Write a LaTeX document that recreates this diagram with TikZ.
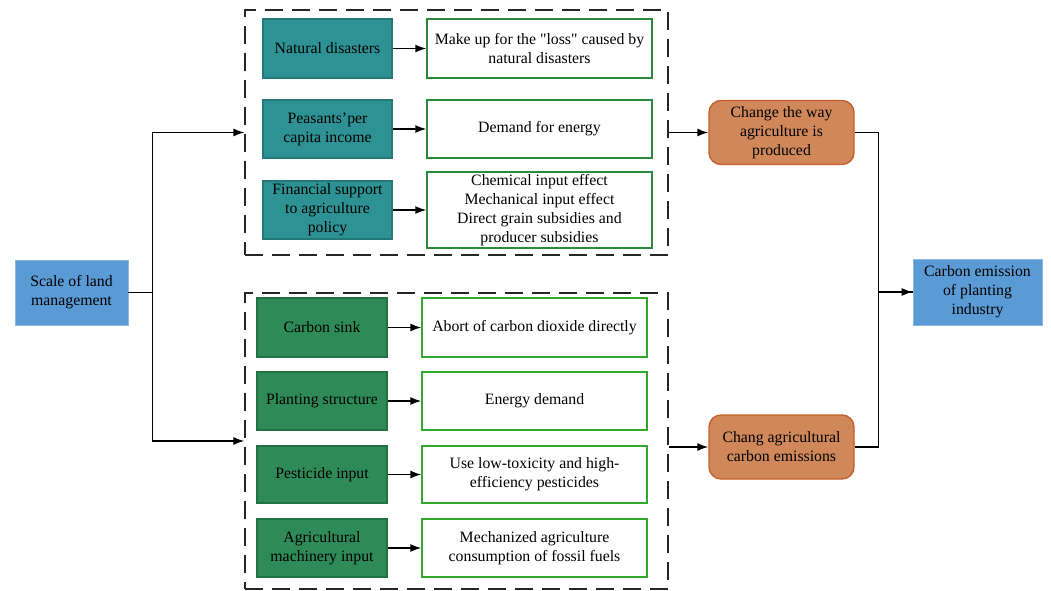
\documentclass[tikz,border=0pt]{standalone}
\usepackage{fontspec}
\setmainfont{Liberation Serif}
\newfontfamily\plainq{Liberation Serif}
\usetikzlibrary{arrows.meta}
\definecolor{tealc}{HTML}{2E9294}
\definecolor{tealb}{HTML}{23797A}
\definecolor{greenc}{HTML}{2E8B57}
\definecolor{greenb}{HTML}{1F7242}
\definecolor{wbtop}{HTML}{2A8A3A}
\definecolor{wbbot}{HTML}{2FAA2F}
\definecolor{orangec}{HTML}{D0875A}
\definecolor{orangeb}{HTML}{C5612A}
\definecolor{bluec}{HTML}{5B9BD5}
\definecolor{blueb}{HTML}{8DB8E0}
\begin{document}
\begin{tikzpicture}[x=1pt,y=-1pt,
  base/.style={line width=1.4pt, align=center, inner sep=1pt, text=black,
    font=\fontsize{15.8}{19}\selectfont},
  tealbox/.style={base, draw=tealb, fill=tealc, minimum width=129, minimum height=58},
  greenbox/.style={base, draw=greenb, fill=greenc, minimum width=130, minimum height=58},
  wtop/.style={base, draw=wbtop, fill=white, minimum width=225, minimum height=58},
  wbot/.style={base, draw=wbbot, fill=white, minimum width=225, minimum height=58},
  orbox/.style={base, draw=orangeb, fill=orangec, rounded corners=12, minimum width=145, minimum height=64},
  bluebox/.style={base, draw=blueb, fill=bluec, line width=0.8pt},
  dashbox/.style={draw=black!85, line width=1.3pt, dash pattern=on 18pt off 9pt, inner sep=0pt},
  arr/.style={draw=black, line width=1.4pt, -{Latex[length=11pt,width=8pt]}},
  ln/.style={draw=black, line width=1.4pt}
]
\path[fill=white] (0,0) rectangle (1051,591);

% dashed group boxes
\node[dashbox, minimum width=423, minimum height=245] (g1) at (456.5,132.5) {};
\node[dashbox, minimum width=423, minimum height=296] (g2) at (456.5,441) {};

% left
\node[bluebox, minimum width=113, minimum height=65] (scale) at (71.5,292.5) {Scale of land\\management};

% top group
\node[tealbox, minimum height=59] (nd) at (327.5,48.5) {Natural disasters};
\node[tealbox] (pc) at (327.5,129) {Peasants’per\\capita income};
\node[tealbox] (fs) at (327.5,210) {Financial support\\to agriculture\\policy};
\node[wtop, minimum height=59] (mu) at (539.5,48.5) {Make up for the {\plainq"}loss{\plainq"} caused by\\natural disasters};
\node[wtop] (de) at (539.5,129) {Demand for energy};
\node[wtop, minimum height=76] (ch) at (539.5,210) {Chemical input effect\\Mechanical input effect\\Direct grain subsidies and\\producer subsidies};

% bottom group
\node[greenbox, minimum height=59] (cs) at (322,327.5) {Carbon sink};
\node[greenbox] (ps) at (322,401) {Planting structure};
\node[greenbox, minimum height=57] (pi) at (322,474.5) {Pesticide input};
\node[greenbox] (am) at (322,548) {Agricultural\\machinery input};
\node[wbot, minimum height=59] (ab) at (534.5,327.5) {Abort of carbon dioxide directly};
\node[wbot] (ed) at (534.5,401) {Energy demand};
\node[wbot, minimum height=57] (ul) at (534.5,474.5) {Use low-toxicity and high-\\efficiency pesticides};
\node[wbot] (mz) at (534.5,548) {Mechanized agriculture\\consumption of fossil fuels};

% right side
\node[orbox] (o1) at (781.5,132.5) {Change the way\\agriculture is\\produced};
\node[orbox] (o2) at (781.5,447) {Chang agricultural\\carbon emissions};
\node[bluebox, minimum width=129, minimum height=66] (ce) at (977.5,292) {Carbon emission\\of planting\\industry};

% connectors
\draw[arr] (scale.east) -- ++(24,0) |- (g1.west);
\draw[arr] (scale.east) -- ++(24,0) |- (g2.west);

\draw[arr] (nd) -- (mu);
\draw[arr] (pc) -- (de);
\draw[arr] (fs) -- (ch);
\draw[arr] (cs) -- (ab);
\draw[arr] (ps) -- (ed);
\draw[arr] (pi) -- (ul);
\draw[arr] (am) -- (mz);

\draw[arr] (g1.east |- o1.west) -- (o1.west);
\draw[arr] (g2.east |- o2.west) -- (o2.west);

\draw[ln] (o1.east) -- ++(24,0) |- (ce.west);
\draw[ln] (o2.east) -- ++(24,0) |- (ce.west);
\draw[arr] (ce.west) ++(-35,0) coordinate (j) (j) -- (ce.west);
\end{tikzpicture}
\end{document}
